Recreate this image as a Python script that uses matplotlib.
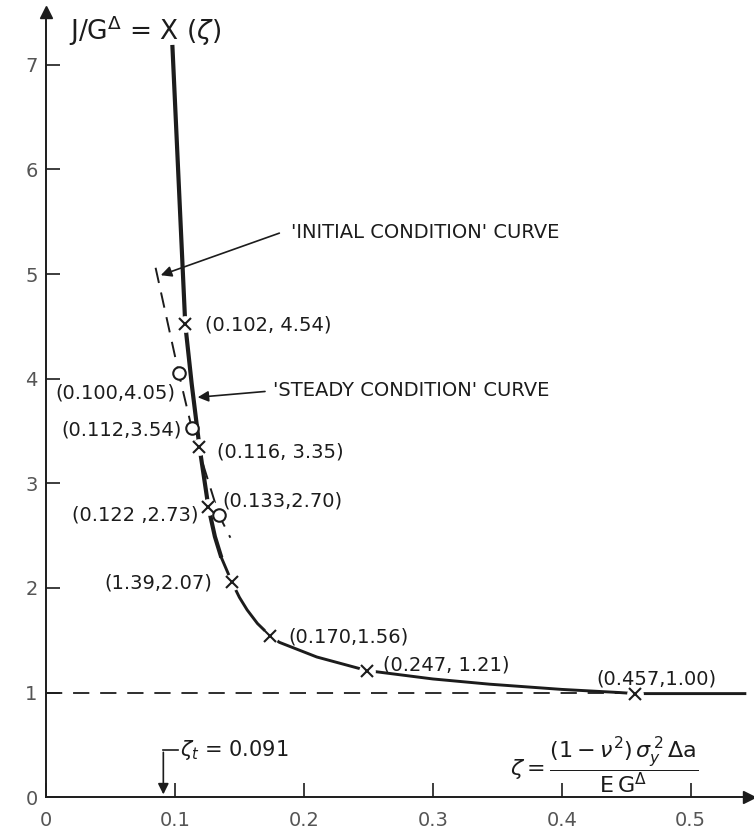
import matplotlib.pyplot as plt

plt.rcParams['font.family'] = 'DejaVu Sans'
plt.rcParams['mathtext.fontset'] = 'dejavusans'

ink = '#1c1c1c'
grey = '#555555'

# steady condition curve (x = zeta, y = J/G)
steady_x = [0.098, 0.108, 0.113, 0.119, 0.126, 0.131, 0.136, 0.144, 0.150, 0.156, 0.164, 0.174,
            0.181, 0.210, 0.249, 0.300, 0.344, 0.400, 0.445, 0.457, 0.542]
steady_y = [7.19, 4.52, 3.95, 3.35, 2.77, 2.49, 2.29, 2.06, 1.91, 1.79, 1.66, 1.54,
            1.48, 1.34, 1.21, 1.13, 1.08, 1.03, 1.00, 0.99, 0.99]

# measured points on the steady curve (crosses) and their printed values
cross_x = [0.108, 0.119, 0.126, 0.144, 0.174, 0.249, 0.457]
cross_y = [4.52, 3.35, 2.77, 2.06, 1.54, 1.21, 0.99]
cross_lbl = ['(0.102, 4.54)', '(0.116, 3.35)', '(0.122 ,2.73)', '(1.39,2.07)',
             '(0.170,1.56)', '(0.247, 1.21)', '(0.457,1.00)']

# initial condition curve (dashed) and its points (circles)
init_x = [0.085, 0.103, 0.113, 0.134, 0.143]
init_y = [5.06, 4.05, 3.53, 2.70, 2.48]
circ_x = [0.103, 0.113, 0.134]
circ_y = [4.05, 3.53, 2.70]
circ_lbl = ['(0.100,4.05)', '(0.112,3.54)', '(0.133,2.70)']

zeta_t = 0.091
asymptote = 1.0

xticks = [0, 0.1, 0.2, 0.3, 0.4, 0.5]
xtick_lbl = ['0', '0.1', '0.2', '0.3', '0.4', '0.5']
yticks = [0, 1, 2, 3, 4, 5, 6, 7]
ytick_lbl = ['0', '1', '2', '3', '4', '5', '6', '7']

fig = plt.figure(figsize=(7.54, 8.33), dpi=100)
ax = fig.add_axes([0.061, 0.043, 0.932, 0.942])
ax.set_xlim(0, 0.545)
ax.set_ylim(0, 7.5)

# axes look
for s in ['top', 'right']:
    ax.spines[s].set_visible(False)
for s in ['left', 'bottom']:
    ax.spines[s].set_color(ink)
    ax.spines[s].set_linewidth(1.4)
ax.plot(1, 0, '>', color=ink, ms=8, transform=ax.get_yaxis_transform(), clip_on=False)
ax.plot(0, 1, '^', color=ink, ms=8, transform=ax.get_xaxis_transform(), clip_on=False)
ax.set_xticks(xticks)
ax.set_xticklabels(xtick_lbl)
ax.set_yticks(yticks)
ax.set_yticklabels(ytick_lbl)
ax.tick_params(direction='in', length=10, width=1.2, color=ink, labelsize=14,
               labelcolor=grey)
ax.tick_params(axis='x', pad=10)
ax.tick_params(axis='y', pad=6)

# asymptote
ax.plot([0, 0.45], [asymptote, asymptote], color=ink, lw=1.3, dashes=(9, 6))

# steady curve: heavy upper part, lighter lower part
ax.plot(steady_x[:7], steady_y[:7], color=ink, lw=3.0, solid_capstyle='butt')
ax.plot(steady_x[6:], steady_y[6:], color=ink, lw=2.1)
ax.plot(cross_x, cross_y, 'o', color='white', ms=11, zorder=3)
ax.plot(cross_x, cross_y, 'x', color=ink, ms=8, mew=1.5, zorder=4)

# initial condition curve
ax.plot(init_x, init_y, color=ink, lw=1.4, dashes=(8, 5), zorder=2)
ax.plot(circ_x, circ_y, 'o', mfc='white', mec=ink, ms=9, mew=1.5, zorder=4)

# point labels
cross_pos = [(0.123, 4.51, 'left'), (0.133, 3.30, 'left'), (0.118, 2.70, 'right'),
             (0.129, 2.05, 'right'), (0.188, 1.53, 'left'), (0.261, 1.26, 'left'),
             (0.427, 1.13, 'left')]
for lbl, (tx, ty, ha) in zip(cross_lbl, cross_pos):
    ax.text(tx, ty, lbl, ha=ha, va='center', fontsize=14, color=ink)
circ_pos = [(0.1005, 3.86, 'right'), (0.105, 3.51, 'right'), (0.137, 2.83, 'left')]
for lbl, (tx, ty, ha) in zip(circ_lbl, circ_pos):
    ax.text(tx, ty, lbl, ha=ha, va='center', fontsize=14, color=ink)

# curve callouts
ax.annotate('', xy=(0.087, 4.98), xytext=(0.183, 5.40),
            arrowprops=dict(arrowstyle='-|>', color=ink, lw=1.2, mutation_scale=16))
ax.text(0.190, 5.40, "'INITIAL CONDITION' CURVE", ha='left', va='center',
        fontsize=14, color=ink)
ax.annotate('', xy=(0.1155, 3.82), xytext=(0.172, 3.88),
            arrowprops=dict(arrowstyle='-|>', color=ink, lw=1.2, mutation_scale=16))
ax.text(0.176, 3.89, "'STEADY CONDITION' CURVE", ha='left', va='center',
        fontsize=14, color=ink)

# zeta_t marker
ax.plot([zeta_t, zeta_t + 0.011], [0.45, 0.45], color=ink, lw=1.2)
ax.annotate('', xy=(zeta_t, 0.0), xytext=(zeta_t, 0.455),
            arrowprops=dict(arrowstyle='-|>', color=ink, lw=1.2, mutation_scale=16))
ax.text(zeta_t + 0.013, 0.45, r'$\zeta_t$ = 0.091', ha='left', va='center',
        fontsize=15, color=ink)

# y axis title
ax.text(0.018, 7.33, r'J/G$^{\Delta}$ = X ($\zeta$)', ha='left', va='center',
        fontsize=19, color=ink)

# definition of zeta
ax.text(0.360, 0.30, r'$\zeta = \dfrac{(1-\nu^2)\,\sigma_y^{\,2}\,\Delta \mathrm{a}}{\mathrm{E}\,\mathrm{G}^{\Delta}}$',
        ha='left', va='center', fontsize=16, color=ink)

fig.savefig('out.png', dpi=100)
